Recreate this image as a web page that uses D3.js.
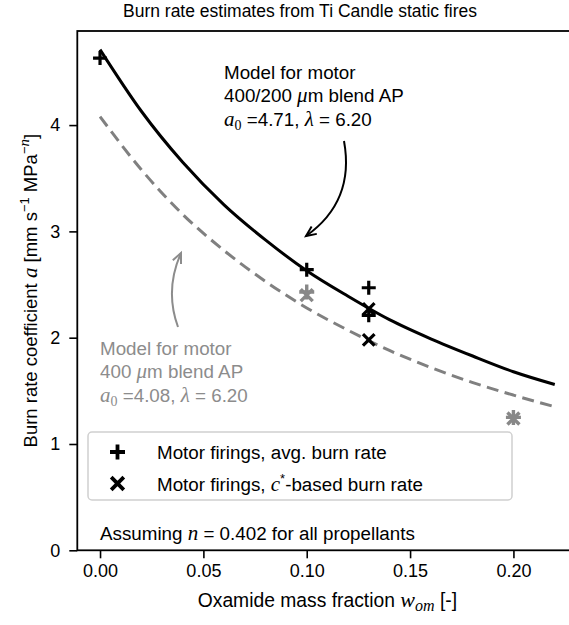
<!DOCTYPE html>
<html><head><meta charset="utf-8">
<script src="https://cdn.jsdelivr.net/npm/d3@7"></script>
<style>
body{margin:0;background:#fff;}
text{font-family:"Liberation Sans",Arial,Helvetica,sans-serif;}
.m{font-family:"Liberation Serif","Times New Roman",serif;font-style:italic;}
</style></head>
<body><svg id="c" width="569" height="625"></svg>
<script>
// ---- data ----
const xTicks = [0, 0.05, 0.10, 0.15, 0.20];
const yTicks = [0, 1, 2, 3, 4];
const wModel = [0, 0.02, 0.04, 0.06, 0.08, 0.10, 0.12, 0.14, 0.16, 0.18, 0.20, 0.22];
const aModelBlend = [4.71, 4.13, 3.65, 3.25, 2.92, 2.63, 2.39, 2.17, 1.99, 1.83, 1.68, 1.56];
const aModel400 = [4.08, 3.58, 3.16, 2.82, 2.53, 2.28, 2.07, 1.88, 1.72, 1.58, 1.46, 1.35];
const wAvgBlend = [0, 0.10, 0.13, 0.13];
const aAvgBlend = [4.63, 2.64, 2.47, 2.21];
const wCstarBlend = [0.13, 0.13];
const aCstarBlend = [2.27, 1.98];
const wAvg400 = [0.10, 0.20];
const aAvg400 = [2.43, 1.25];
const wCstar400 = [0.10, 0.20];
const aCstar400 = [2.40, 1.24];

const svg = d3.select("#c");
const L = 77.3, R = 577.5, T = 31, B = 550.3;
const x = d3.scaleLinear().domain([-0.011, 0.231]).range([L, R]);
const y = d3.scaleLinear().domain([0, 4.885]).range([B, T]);
const GRAY = "#808080", TGRAY = "#8c8c8c";

svg.append("defs").append("clipPath").attr("id","clip")
  .append("rect").attr("x",L).attr("y",T).attr("width",R-L).attr("height",B-T);

// title
svg.append("text").attr("x",300).attr("y",17).attr("text-anchor","middle")
  .style("font-size","17.5px").text("Burn rate estimates from Ti Candle static fires");

// axes
const xAxis = d3.axisBottom(x).tickValues(xTicks).tickFormat(d3.format(".2f")).tickSize(8).tickPadding(6);
const yAxis = d3.axisLeft(y).tickValues(yTicks).tickFormat(d3.format("d")).tickSize(8).tickPadding(9);
const gx = svg.append("g").attr("transform",`translate(0,${B})`).call(xAxis);
const gy = svg.append("g").attr("transform",`translate(${L},0)`).call(yAxis);
[gx, gy].forEach(g => {
  g.select(".domain").remove();
  g.selectAll(".tick line").attr("stroke","#000").attr("stroke-width",1.6);
  g.selectAll(".tick text").attr("fill","#000").style("font-size","18px");
});
// spines
svg.append("rect").attr("x",L).attr("y",T).attr("width",R-L).attr("height",B-T)
  .attr("fill","none").attr("stroke","#000").attr("stroke-width",1.8);

// axis labels
const xl = svg.append("text").attr("x",(L+R)/2).attr("y",607).attr("text-anchor","middle").style("font-size","19.3px");
xl.append("tspan").text("Oxamide mass fraction ");
xl.append("tspan").attr("class","m").style("font-size","22px").text("w");
xl.append("tspan").attr("class","m").style("font-size","16px").attr("dy",4).text("om");
xl.append("tspan").attr("dy",-4).text(" [-]");

const yl = svg.append("text").attr("transform",`translate(37,${(T+B)/2}) rotate(-90)`)
  .attr("text-anchor","middle").style("font-size","18.5px");
yl.append("tspan").text("Burn rate coefficient ");
yl.append("tspan").attr("class","m").style("font-size","21px").text("a");
yl.append("tspan").text(" [mm s");
yl.append("tspan").style("font-size","13px").attr("dy",-8).text("\u22121");
yl.append("tspan").attr("dy",8).text(" MPa");
yl.append("tspan").style("font-size","13px").attr("dy",-8).text("\u2212");
yl.append("tspan").attr("class","m").style("font-size","15px").text("n");
yl.append("tspan").attr("dy",8).text("]");

// model curves
const plot = svg.append("g").attr("clip-path","url(#clip)");
const line = d3.line().x(d=>x(d[0])).y(d=>y(d[1])).curve(d3.curveMonotoneX);
plot.append("path").datum(d3.zip(wModel, aModel400)).attr("d",line)
  .attr("fill","none").attr("stroke",GRAY).attr("stroke-width",3).attr("stroke-dasharray","12,6.5");
plot.append("path").datum(d3.zip(wModel, aModelBlend)).attr("d",line)
  .attr("fill","none").attr("stroke","#000").attr("stroke-width",3);

// markers
const plusPath = s => `M${-s},0H${s}M0,${-s}V${s}`;
const crossPath = s => `M${-s},${-s}L${s},${s}M${-s},${s}L${s},${-s}`;
function markers(ws, as, shape, color, s, sw){
  plot.selectAll(null).data(d3.zip(ws, as)).enter().append("path")
    .attr("transform",d=>`translate(${x(d[0])},${y(d[1])})`)
    .attr("d",shape(s)).attr("fill","none").attr("stroke",color).attr("stroke-width",sw);
}
markers(wAvg400, aAvg400, plusPath, "#888", 7.5, 3.4);
markers(wCstar400, aCstar400, crossPath, "#888", 6, 3.4);
markers(wAvgBlend, aAvgBlend, plusPath, "#000", 7, 3.2);
markers(wCstarBlend, aCstarBlend, crossPath, "#000", 5.8, 3.2);

// annotations
function arrow(p0, c, p2, color){
  svg.append("path").attr("d",`M${p0[0]},${p0[1]}Q${c[0]},${c[1]} ${p2[0]},${p2[1]}`)
    .attr("fill","none").attr("stroke",color).attr("stroke-width",2);
  const ang = Math.atan2(p2[1]-c[1], p2[0]-c[0]);
  const len = 11, spr = 0.42;
  const a1 = [p2[0]-len*Math.cos(ang-spr), p2[1]-len*Math.sin(ang-spr)];
  const a2 = [p2[0]-len*Math.cos(ang+spr), p2[1]-len*Math.sin(ang+spr)];
  svg.append("path").attr("d",`M${a1[0]},${a1[1]}L${p2[0]},${p2[1]}L${a2[0]},${a2[1]}`)
    .attr("fill","none").attr("stroke",color).attr("stroke-width",2);
}
function modelText(x0, y0, lines, color){
  const g = svg.append("g").attr("fill",color).style("font-size","18.8px");
  lines.forEach((parts, i) => {
    const t = g.append("text").attr("x",x0).attr("y",y0+i*23.7);
    parts.forEach(p => {
      const s = t.append("tspan").text(p.t);
      if (p.m) s.attr("class","m").style("font-size","21px");
      if (p.sub) s.attr("class",null).style("font-family","Liberation Serif,serif").style("font-size","14px").attr("dy",4);
      if (p.up) s.attr("dy",-4);
    });
  });
}
modelText(224, 78.5, [
  [{t:"Model for motor"}],
  [{t:"400/200 "},{t:"\u03bc",m:1},{t:"m blend AP"}],
  [{t:"a",m:1},{t:"0",sub:1},{t:" =4.71, ",up:1},{t:"\u03bb",m:1},{t:" = 6.20"}]
], "#000");
modelText(100, 354.5, [
  [{t:"Model for motor"}],
  [{t:"400 "},{t:"\u03bc",m:1},{t:"m blend AP"}],
  [{t:"a",m:1},{t:"0",sub:1},{t:" =4.08, ",up:1},{t:"\u03bb",m:1},{t:" = 6.20"}]
], TGRAY);
arrow([344,141],[355,201.5],[306,236],"#000");
arrow([178,327],[164.5,290],[181,253],TGRAY);

// legend
svg.append("rect").attr("x",88).attr("y",432).attr("width",424).attr("height",68).attr("rx",4)
  .attr("fill","#fff").attr("fill-opacity",0.8).attr("stroke","#d0d0d0").attr("stroke-width",1.5);
svg.append("path").attr("transform","translate(117.5,452)").attr("d",plusPath(7.5))
  .attr("fill","none").attr("stroke","#000").attr("stroke-width",3.8);
svg.append("path").attr("transform","translate(117.5,483.5)").attr("d",crossPath(6.3))
  .attr("fill","none").attr("stroke","#000").attr("stroke-width",3.8);
const lg = svg.append("g").style("font-size","18.8px");
lg.append("text").attr("x",157).attr("y",459).text("Motor firings, avg. burn rate");
const l2 = lg.append("text").attr("x",157).attr("y",490.5);
l2.append("tspan").text("Motor firings, ");
l2.append("tspan").attr("class","m").style("font-size","21px").text("c");
l2.append("tspan").style("font-size","13px").attr("dy",-8).text("*");
l2.append("tspan").attr("dy",8).text("-based burn rate");

// note
const nt = svg.append("text").attr("x",100).attr("y",539.5).style("font-size","18.8px");
nt.append("tspan").text("Assuming ");
nt.append("tspan").attr("class","m").style("font-size","21px").text("n");
nt.append("tspan").text(" = 0.402 for all propellants");
</script></body></html>
